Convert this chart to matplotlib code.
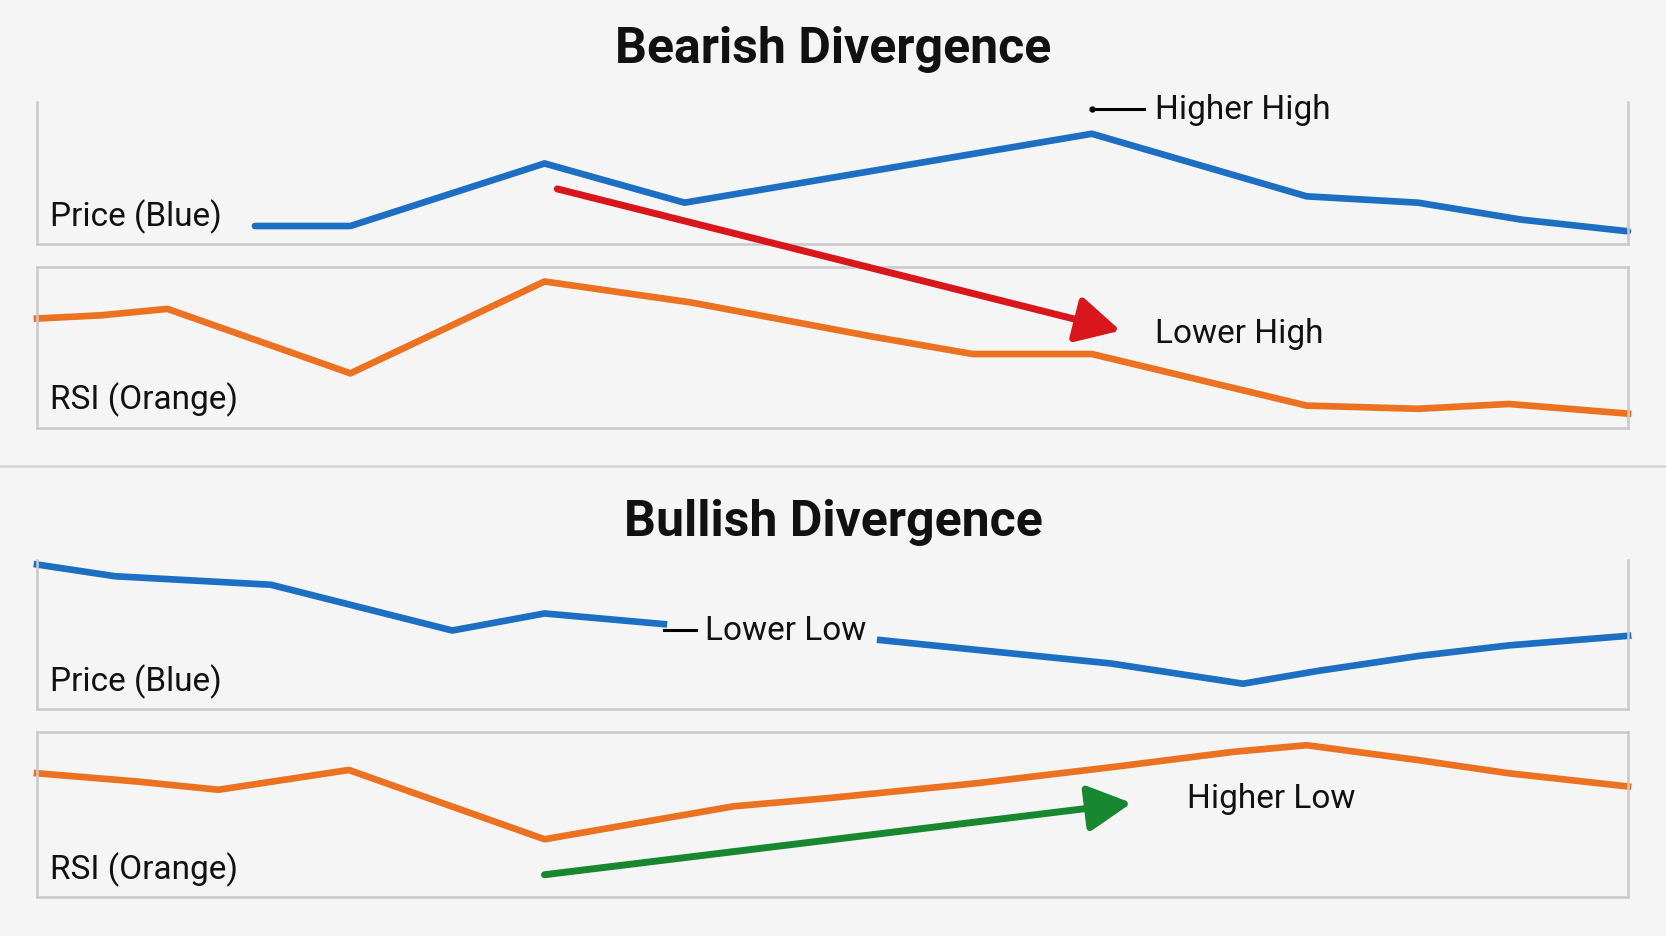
import numpy as np
import matplotlib
matplotlib.use("Agg")
import matplotlib.pyplot as plt
from matplotlib.patches import ConnectionPatch

# ---- data (x on a 0-100 time scale) ----
bear_price_x = [13.7, 19.7, 31.9, 40.7, 66.3, 79.8, 86.8, 93.3, 100]
bear_price_y = [17, 17, 76, 39, 104, 45, 39, 23, 12]

bear_rsi_x = [0, 4.0, 8.2, 19.7, 31.9, 41.1, 52.4, 58.8, 66.3, 79.8, 86.8, 92.5, 100]
bear_rsi_y = [68, 70, 74, 34, 91, 78, 57, 46, 46, 14, 12, 15, 9]

# gap (nan) where the "Lower Low" label sits
bull_price_x = [0, 4.9, 14.7, 26.1, 31.9, 39.4, np.nan, 53.0, 67.5, 75.8, 80.5, 86.8, 92.5, 100]
bull_price_y = [136, 125, 117, 74, 90, 80, np.nan, 65, 43, 24, 36, 50, 60, 69]

bull_rsi_x = [0, 6.3, 11.4, 19.6, 31.9, 43.8, 49.8, 59.1, 67.8, 75.2, 79.8, 86.8, 92.5, 100]
bull_rsi_y = [75, 70, 65, 77, 35, 55, 60, 69, 79, 88, 92, 83, 75, 67]

BG = "#f5f5f5"
FRAME = "#c9c9cd"
BLUE = "#1c6fc2"
ORANGE = "#ec7121"
RED = "#d9161b"
GREEN = "#17882f"
LABEL_FONT = ["Roboto", "DejaVu Sans"]
TITLE_FONT = ["Roboto", "DejaVu Sans"]
LW = 4.8

fig = plt.figure(figsize=(16.66, 9.37), dpi=100, facecolor=BG)

def panel(rect, ylim, top=True):
    ax = fig.add_axes(rect)
    ax.set_facecolor(BG)
    ax.set_xlim(0, 100)
    ax.set_ylim(*ylim)
    ax.set_xticks([])
    ax.set_yticks([])
    for s in ax.spines.values():
        s.set_color(FRAME)
        s.set_linewidth(1.8)
    if not top:
        ax.spines["top"].set_visible(False)
    ax.patch.set_alpha(0)
    return ax

ax1 = panel([0.0222, 0.7385, 0.955, 0.1516], (0, 134), top=False)
ax2 = panel([0.0222, 0.5420, 0.955, 0.1720], (0, 100))
ax3 = panel([0.0222, 0.2420, 0.955, 0.1590], (0, 140), top=False)
ax4 = panel([0.0222, 0.0416, 0.955, 0.1761], (0, 100))

ax1.plot(bear_price_x, bear_price_y, color=BLUE, lw=LW, solid_capstyle="round", clip_on=False)
ax2.plot(bear_rsi_x, bear_rsi_y, color=ORANGE, lw=LW, clip_on=False)
ax3.plot(bull_price_x, bull_price_y, color=BLUE, lw=LW, clip_on=False)
ax4.plot(bull_rsi_x, bull_rsi_y, color=ORANGE, lw=LW, clip_on=False)

# panel labels
lab = dict(fontsize=24, family=LABEL_FONT, color="#111111", ha="left", va="center")
ax1.text(0.008, 0.20, "Price (Blue)", transform=ax1.transAxes, **lab)
ax2.text(0.008, 0.18, "RSI (Orange)", transform=ax2.transAxes, **lab)
ax3.text(0.008, 0.19, "Price (Blue)", transform=ax3.transAxes, **lab)
ax4.text(0.008, 0.17, "RSI (Orange)", transform=ax4.transAxes, **lab)

# annotations
ax1.plot([66.3, 69.6], [127, 127], color="black", lw=2.2, clip_on=False)
ax1.plot([66.3], [127], "o", color="black", ms=3.5, clip_on=False)
ax1.text(70.3, 127, "Higher High", **lab)

ax2.text(70.3, 59, "Lower High", **lab)

ax3.plot([39.4, 41.4], [74, 74], color="black", lw=2.2)
ax3.text(42.0, 74, "Lower Low", **lab)

ax4.text(72.3, 60, "Higher Low", **lab)

HEAD = "-|>,head_length=0.95,head_width=0.5"

# red arrow across price/RSI panels
red = ConnectionPatch(xyA=(32.7, 52), coordsA=ax1.transData,
                      xyB=(68.1, 60.5), coordsB=ax2.transData,
                      arrowstyle=HEAD, mutation_scale=28, color=RED, lw=5,
                      capstyle="round", shrinkA=0, shrinkB=0, zorder=5)
fig.add_artist(red)

ax4.annotate("", xy=(68.8, 57), xytext=(31.9, 13.5),
             arrowprops=dict(arrowstyle=HEAD, mutation_scale=28, color=GREEN,
                             lw=5, shrinkA=0, shrinkB=0),
             annotation_clip=False)

# titles and separator
fig.text(0.5, 0.947, "Bearish Divergence", ha="center", va="center",
         fontsize=36, fontweight="bold", family=TITLE_FONT, color="#111111")
fig.text(0.5, 0.442, "Bullish Divergence", ha="center", va="center",
         fontsize=36, fontweight="bold", family=TITLE_FONT, color="#111111")
fig.add_artist(plt.Line2D([0, 1], [0.5016, 0.5016], transform=fig.transFigure,
                          color="#d4d4d8", lw=1.8))

fig.savefig("out.png", dpi=100, facecolor=BG)
